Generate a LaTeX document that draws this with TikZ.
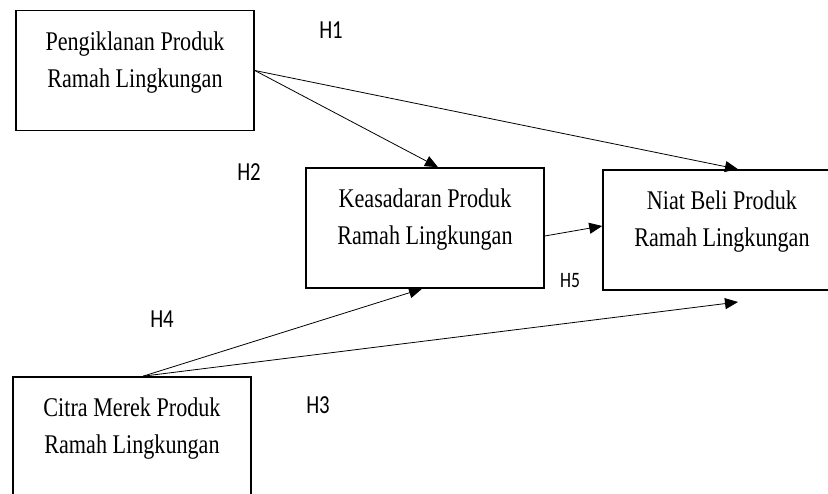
\documentclass[tikz,border=0pt]{standalone}
\usepackage{fontspec}
\setmainfont{Liberation Serif}
\newfontfamily\hfont{Carlito}
\usetikzlibrary{arrows.meta}
\begin{document}
\begin{tikzpicture}[x=1pt, y=-1pt,
			box/.style={draw, line width=1.6pt, inner sep=0pt},
			label/.style={inner sep=0pt, align=center, xscale=0.82, font=\fontsize{27}{37}\selectfont},
			hyp/.style={inner sep=0pt, xscale=0.8, font=\hfont\fontsize{26}{30}\selectfont},
			arr/.style={-{Triangle[length=13pt,width=11pt]}, line width=0.8pt}]
			
			\useasboundingbox (0,0) rectangle (828,494);
			\clip (0,0) rectangle (828,494);
			
			\node[box, minimum width=238pt, minimum height=120pt] (A) at (135,70.5) {};
			\node[box, minimum width=238pt, minimum height=120pt] (B) at (425,228) {};
			\node[box, minimum width=238pt, minimum height=120pt] (C) at (722,230) {};
			\node[box, minimum width=238pt, minimum height=130pt] (D) at (132,442) {};
			
			\node[label] (a) at (135,63) {Pengiklanan Produk\\Ramah Lingkungan};
			\node[label] (b) at (425,220) {Keasadaran Produk\\Ramah Lingkungan};
			\node[label] (c) at (722,222) {Niat Beli Produk\\Ramah Lingkungan};
			\node[label] (d) at (132,429) {Citra Merek Produk\\Ramah Lingkungan};
			
			\coordinate (e) at (738,302);
			
			\draw[arr] (A.east) to ([xshift=13pt]B.north);
			\draw[arr] (A.east) to ([xshift=16pt]C.north);
			\draw[arr] ([yshift=-8pt]B.east) to ([yshift=4pt]C.west);
			\draw[arr] ([xshift=11pt]D.north) to ([xshift=-3pt]B.south);
			\draw[arr] ([xshift=11pt]D.north) to (e);
			
			\node[hyp] (h1) at (331,30) {H1};
			\node[hyp] (h2) at (249,172) {H2};
			\node[hyp] (h3) at (318,405) {H3};
			\node[hyp] (h4) at (162,319) {H4};
			\node[hyp, font=\hfont\fontsize{22}{26}\selectfont] (h5) at (570,281) {H5};
			
		\end{tikzpicture}
\end{document}
